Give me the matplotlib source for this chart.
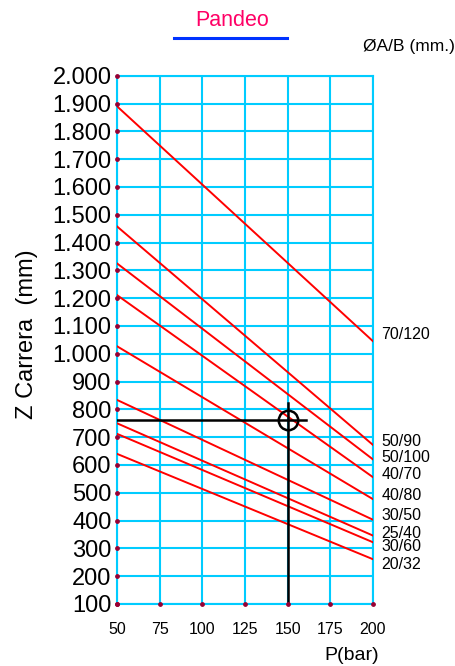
import matplotlib
matplotlib.use("Agg")
import matplotlib.pyplot as plt
import numpy as np

# buckling chart data: stroke Z (mm) vs pressure P (bar), per bore/rod size
sizes = ["70/120", "50/90", "50/100", "40/70", "40/80", "30/50", "25/40", "30/60", "20/32"]
p_start = 50
p_end = 200
z_start = [1890, 1458, 1325, 1211, 1027, 834, 750, 712, 640]
z_end = [1045, 672, 620, 556, 477, 403, 346, 322, 261]
label_z = [1070, 686, 627, 565, 491, 418, 355, 306, 243]

x_ticks = [50, 75, 100, 125, 150, 175, 200]
y_ticks = list(range(100, 2001, 100))
y_labels = [f"{v // 1000}.{v % 1000:03d}" if v >= 1000 else str(v) for v in y_ticks]

# example reading
p_read = 150
z_read = 763
p_hline_end = 161
z_vline_top = 824

grid_col = "#00CCFF"
red = "#FF0000"
dot_col = "#990033"
plain = ["Liberation Sans", "DejaVu Sans"]

fig = plt.figure(figsize=(4.56, 6.66), dpi=100)
ax = fig.add_axes([117 / 456, 1 - 604 / 666, 256 / 456, (604 - 75.7) / 666])

ax.set_xlim(50, 200)
ax.set_ylim(100, 2000)
ax.set_xticks(x_ticks)
ax.set_yticks(y_ticks)
ax.set_xticklabels([str(v) for v in x_ticks], family=plain, fontsize=11.5)
ax.set_yticklabels(y_labels, family=plain, fontsize=17)
ax.tick_params(axis="y", length=0, pad=4)
ax.tick_params(axis="x", length=0, pad=13)
ax.grid(True, color=grid_col, lw=1.5)
for s in ax.spines.values():
    s.set_color(grid_col)
    s.set_linewidth(1.5)
ax.set_axisbelow(True)

# the size lines
for name, z0, z1, zl in zip(sizes, z_start, z_end, label_z):
    ax.plot([p_start, p_end], [z0, z1], color=red, lw=1.4, zorder=3)
    ax.text(p_end + 5, zl, name, family=plain, fontsize=11.5, va="center", ha="left")

# reading lines and circle
ax.plot([50, p_hline_end], [z_read, z_read], color="black", lw=1.8, zorder=4)
ax.plot([p_read, p_read], [100, z_vline_top], color="black", lw=1.8, zorder=4, clip_on=False)
ax.plot([p_read], [z_read], marker="o", ms=14, mfc="none", mec="black", mew=1.8, zorder=5)

# small dots on the axes at the ticks
ax.scatter([50] * len(y_ticks), y_ticks, s=6, color=dot_col, zorder=6, clip_on=False)
ax.scatter(x_ticks, [100] * len(x_ticks), s=6, color=dot_col, zorder=6, clip_on=False)

ax.set_ylabel("Z Carrera  (mm)", family=plain, fontsize=17)
ax.yaxis.set_label_coords((38 - 117) / 256, (604 - 334) / 528.3)
fig.text(352 / 456, 1 - 655 / 666, "P(bar)", family=plain, fontsize=14, ha="center", va="center")
fig.text(232 / 456, 1 - 20 / 666, "Pandeo", family=plain, fontsize=15.5, color="#FF0066",
         ha="center", va="center")
fig.add_artist(plt.Line2D([174 / 456, 287 / 456], [1 - 38 / 666, 1 - 38 / 666],
                          color="#0033FF", lw=2.2))
fig.text(409 / 456, 1 - 46 / 666, "\u00d8A/B (mm.)", family=plain, fontsize=12.5,
         ha="center", va="center")

fig.savefig("out.png", dpi=100)
